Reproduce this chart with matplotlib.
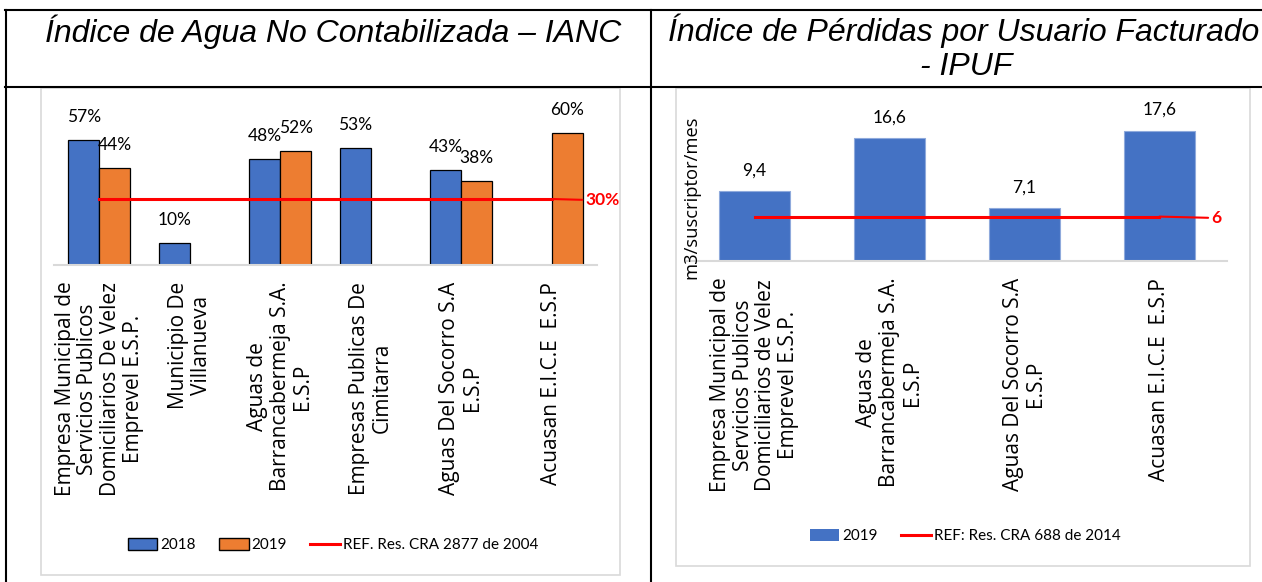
import matplotlib
matplotlib.use('Agg')
import numpy as np
import matplotlib.pyplot as plt
from matplotlib.patches import Rectangle, Patch
from matplotlib.lines import Line2D

# ---------------- data ----------------
ianc_categories = [
    "Empresa Municipal de\nServicios Publicos\nDomiciliarios De Velez\nEmprevel E.S.P.",
    "Municipio De\nVillanueva",
    "Aguas de\nBarrancabermeja S.A.\nE.S.P",
    "Empresas Publicas De\nCimitarra",
    "Aguas Del Socorro S.A\nE.S.P",
    "Acuasan E.I.C.E  E.S.P",
]
ianc_2018 = [57, 10, 48, 53, 43, None]
ianc_2019 = [44, None, 52, None, 38, 60]
ianc_ref = 30
ianc_ref_label = "REF. Res. CRA 2877 de 2004"

ipuf_categories = [
    "Empresa Municipal de\nServicios Publicos\nDomiciliarios de Velez\nEmprevel E.S.P.",
    "Aguas de\nBarrancabermeja S.A.\nE.S.P",
    "Aguas Del Socorro S.A\nE.S.P",
    "Acuasan E.I.C.E  E.S.P",
]
ipuf_2019 = [9.4, 16.6, 7.1, 17.6]
ipuf_ref = 6
ipuf_ref_label = "REF: Res. CRA 688 de 2014"
ipuf_ylabel = "m3/suscriptor/mes"

title_left = "Índice de Agua No Contabilizada – IANC"
title_right_1 = "Índice de Pérdidas por Usuario Facturado"
title_right_2 = "- IPUF"

# ---------------- style ----------------
BLUE = "#4472C4"
ORANGE = "#ED7D31"
RED = "#FF0000"
GRID = "#d9d9d9"
LBL_FONT = ["Lato", "DejaVu Sans"]
CAT_FONT = ["Open Sans", "DejaVu Sans"]
TITLE_FONT = ["Liberation Sans", "DejaVu Sans"]
LBL_SIZE = 12.5
CAT_SIZE = 15
LEG_SIZE = 11

W, H = 1262, 582
def fx(p):
    return p / W
def fy(p):
    return 1 - p / H

fig = plt.figure(figsize=(W / 100, H / 100), dpi=100)
fig.patch.set_facecolor("white")

# ---------------- table lines & chart frames ----------------
lw_tab = 1.5
fig.add_artist(Line2D([fx(5), 1], [fy(10), fy(10)], transform=fig.transFigure, color="black", lw=lw_tab))
fig.add_artist(Line2D([fx(5), 1], [fy(87), fy(87)], transform=fig.transFigure, color="black", lw=lw_tab))
fig.add_artist(Line2D([fx(6), fx(6)], [fy(10), 0], transform=fig.transFigure, color="black", lw=lw_tab))
fig.add_artist(Line2D([fx(651), fx(651)], [fy(10), 0], transform=fig.transFigure, color="black", lw=lw_tab))

fig.add_artist(Rectangle((fx(41), fy(575)), (620 - 41) / W, (575 - 88) / H,
                         transform=fig.transFigure, fill=False, ec=GRID, lw=1.2))
fig.add_artist(Rectangle((fx(676), fy(566)), (1250 - 676) / W, (566 - 88) / H,
                         transform=fig.transFigure, fill=False, ec=GRID, lw=1.2))

# ---------------- titles ----------------
fig.text(fx(333), fy(32), title_left, ha="center", va="center", fontsize=23,
         style="italic", family=TITLE_FONT)
fig.text(fx(964), fy(31), title_right_1, ha="center", va="center", fontsize=23,
         style="italic", family=TITLE_FONT)
fig.text(fx(966), fy(67), title_right_2, ha="center", va="center", fontsize=23,
         style="italic", family=TITLE_FONT)

# ---------------- left chart: IANC ----------------
ax1 = fig.add_axes([fx(54), fy(265), (597 - 54) / W, (265 - 100) / H])
ax1.set_xlim(-0.5, len(ianc_categories) - 0.5)
ax1.set_ylim(0, 165 / 2.2)
x1 = np.arange(len(ianc_categories))
bw = 0.3425
for i, (a, b) in enumerate(zip(ianc_2018, ianc_2019)):
    if a is not None:
        ax1.bar(x1[i] - bw / 2, a, bw, color=BLUE, edgecolor="black", lw=0.9, zorder=2)
        ax1.annotate(f"{a}%", (x1[i] - bw / 2, a), xytext=(0, 16.5), textcoords="offset points",
                     ha="center", va="center", fontsize=LBL_SIZE, family=LBL_FONT)
    if b is not None:
        ax1.bar(x1[i] + bw / 2, b, bw, color=ORANGE, edgecolor="black", lw=0.9, zorder=2)
        ax1.annotate(f"{b}%", (x1[i] + bw / 2, b), xytext=(0, 16.5), textcoords="offset points",
                     ha="center", va="center", fontsize=LBL_SIZE, family=LBL_FONT)
ax1.plot(x1, [ianc_ref] * len(x1), color=RED, lw=2.2, zorder=3)
ax1.annotate(f"{ianc_ref}%", (x1[-1], ianc_ref), xytext=(24, -1), textcoords="offset points",
             ha="left", va="center", fontsize=LBL_SIZE, fontweight="bold", color=RED, family=LBL_FONT,
             arrowprops=dict(arrowstyle="-", color=RED, lw=1.5, shrinkA=0, shrinkB=0))

ax1.set_xticks(x1)
ax1.set_xticklabels(ianc_categories, rotation=90, fontsize=CAT_SIZE, family=CAT_FONT,
                    linespacing=1.1, multialignment="center")
ax1.tick_params(axis="x", length=0, pad=12)
ax1.set_yticks([])
for s in ["top", "left", "right"]:
    ax1.spines[s].set_visible(False)
ax1.spines["bottom"].set_color(GRID)
ax1.spines["bottom"].set_linewidth(1.5)
ax1.patch.set_alpha(0)

leg1_handles = [Patch(facecolor=BLUE, edgecolor="black"),
                Patch(facecolor=ORANGE, edgecolor="black"),
                Line2D([], [], color=RED, lw=2.2)]
fig.legend(leg1_handles, ["2018", "2019", ianc_ref_label], loc="center",
           bbox_to_anchor=(fx(333), fy(545)), ncol=3, frameon=False,
           prop=dict(family=LBL_FONT, size=LEG_SIZE), handlelength=1.95, handleheight=0.85,
           handletextpad=0.2, columnspacing=1.5)

# ---------------- right chart: IPUF ----------------
ax2 = fig.add_axes([fx(687), fy(261), (1227 - 687) / W, (261 - 100) / H])
ax2.set_xlim(-0.5, len(ipuf_categories) - 0.5)
ax2.set_ylim(0, 161 / 7.4)
x2 = np.arange(len(ipuf_categories))
ax2.bar(x2, ipuf_2019, 0.52, color=BLUE, edgecolor="#8FAADC", lw=0.8, zorder=2)
for xi, v in zip(x2, ipuf_2019):
    ax2.annotate(f"{v:.1f}".replace(".", ","), (xi, v), xytext=(0, 15), textcoords="offset points",
                 ha="center", va="center", fontsize=LBL_SIZE, family=LBL_FONT)
ax2.plot(x2, [ipuf_ref] * len(x2), color=RED, lw=2.2, zorder=3)
ax2.annotate(f"{ipuf_ref}", (x2[-1], ipuf_ref), xytext=(37, -1), textcoords="offset points",
             ha="left", va="center", fontsize=LBL_SIZE, fontweight="bold", color=RED, family=LBL_FONT,
             arrowprops=dict(arrowstyle="-", color=RED, lw=1.5, shrinkA=0, shrinkB=0))

ax2.set_xticks(x2)
ax2.set_xticklabels(ipuf_categories, rotation=90, fontsize=CAT_SIZE, family=CAT_FONT,
                    linespacing=1.1, multialignment="center")
ax2.tick_params(axis="x", length=0, pad=12)
ax2.set_yticks([])
for s in ["top", "left", "right"]:
    ax2.spines[s].set_visible(False)
ax2.spines["bottom"].set_color(GRID)
ax2.spines["bottom"].set_linewidth(1.5)
ax2.patch.set_alpha(0)

fig.text(fx(691), fy(197), ipuf_ylabel, rotation=90, ha="center", va="center",
         fontsize=13.2, family=CAT_FONT)

leg2_handles = [Patch(facecolor=BLUE, edgecolor="none"), Line2D([], [], color=RED, lw=2.2)]
fig.legend(leg2_handles, ["2019", ipuf_ref_label], loc="center",
           bbox_to_anchor=(fx(965), fy(536)), ncol=2, frameon=False,
           prop=dict(family=LBL_FONT, size=LEG_SIZE), handlelength=1.95, handleheight=0.85,
           handletextpad=0.2, columnspacing=1.5)

fig.savefig("out.png", dpi=100)
